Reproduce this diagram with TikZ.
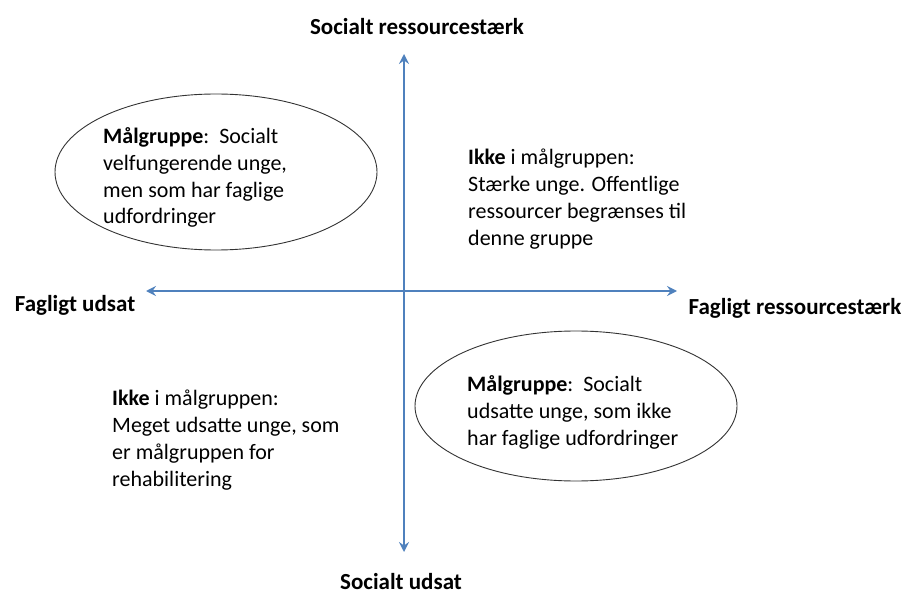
\documentclass[tikz,border=0pt]{standalone}
\usepackage{fontspec}
\setmainfont{Carlito}
\usetikzlibrary{shapes.geometric,arrows.meta}
\definecolor{axisblue}{HTML}{4F81BD}
\tikzset{
  axis/.style={draw=axisblue, line width=1.6pt, -{Stealth[length=10pt,width=10pt,inset=3.5pt]}},
  axislabel/.style={font=\bfseries\fontsize{23}{26}\selectfont, inner sep=0pt},
  bubble/.style={draw=black!80, line width=0.9pt, ellipse, inner sep=0pt},
  body/.style={font=\fontsize{22}{27}\selectfont, align=left, inner sep=0pt, anchor=base west},
}
\begin{document}
\begin{tikzpicture}[x=1pt,y=-1pt]
\useasboundingbox (0,0) rectangle (903,599);
\coordinate (vtop) at (404,54);
\coordinate (vbot) at (404,552);
\coordinate (hleft) at (146,291);
\coordinate (hright) at (677,291);
\coordinate (ctr) at (404,291);
\draw[axis] (ctr) -- (vtop);
\draw[axis] (ctr) -- (vbot);
\draw[axis] (ctr) -- (hleft);
\draw[axis] (ctr) -- (hright);
\node[axislabel] (lt) at (417,27) {Socialt ressourcestærk};
\node[axislabel] (lb) at (401,582) {Socialt udsat};
\node[axislabel] (ll) at (75,305) {Fagligt udsat};
\node[axislabel] (lr) at (795,308) {Fagligt ressourcestærk};
\node[bubble, minimum width=322pt, minimum height=156pt] (e1) at (216,172) {};
\node[bubble, minimum width=322pt, minimum height=150pt] (e2) at (576,406) {};
\node[body] (t1) at (103,224) {\textbf{Målgruppe}:\ \ Socialt\\velfungerende unge,\\men som har faglige\\udfordringer};
\node[body] (t2) at (467,445) {\textbf{Målgruppe}:\ \ Socialt\\udsatte unge, som ikke\\har faglige udfordringer};
\node[body] (t3) at (468,245) {\textbf{Ikke} i målgruppen:\\Stærke unge. Offentlige\\ressourcer begrænses til\\denne gruppe};
\node[body] (t4) at (112,486) {\textbf{Ikke} i målgruppen:\\Meget udsatte unge, som\\er målgruppen for\\rehabilitering};
\end{tikzpicture}
\end{document}
